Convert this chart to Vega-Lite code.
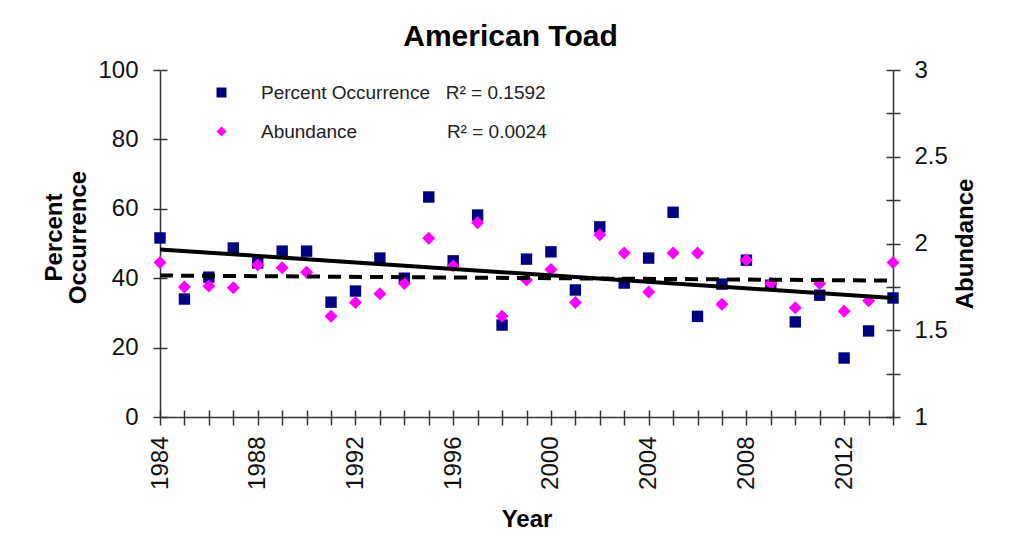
{
  "$schema": "https://vega.github.io/schema/vega-lite/v6.json",
  "width": 733,
  "height": 347,
  "autosize": {"type": "none"},
  "padding": {"left": 160, "top": 70, "right": 118, "bottom": 133},
  "background": "white",
  "title": {
    "text": "American Toad",
    "font": "Liberation Sans",
    "fontSize": 30,
    "fontWeight": "bold",
    "color": "#000000",
    "anchor": "middle",
    "dx": -16,
    "offset": 6
  },
  "config": {
    "view": {"stroke": null},
    "font": "Liberation Sans",
    "axis": {
      "labelFont": "Liberation Sans",
      "labelFontSize": 24,
      "labelColor": "#111111",
      "titleFont": "Liberation Sans",
      "titleFontSize": 24,
      "titleFontWeight": "bold",
      "titleColor": "#000000",
      "domainColor": "#333333",
      "domainWidth": 1.5,
      "tickColor": "#333333",
      "tickWidth": 1.5,
      "grid": false
    }
  },
  "data": {
    "values": [
      {"year": 1984, "pct": 51.6, "abund": 1.89},
      {"year": 1985, "pct": 34.0, "abund": 1.75},
      {"year": 1986, "pct": 40.3, "abund": 1.755},
      {"year": 1987, "pct": 48.7, "abund": 1.745},
      {"year": 1988, "pct": 44.4, "abund": 1.876},
      {"year": 1989, "pct": 47.8, "abund": 1.86},
      {"year": 1990, "pct": 47.8, "abund": 1.835},
      {"year": 1991, "pct": 33.1, "abund": 1.58},
      {"year": 1992, "pct": 36.3, "abund": 1.66},
      {"year": 1993, "pct": 45.8, "abund": 1.71},
      {"year": 1994, "pct": 40.0, "abund": 1.77},
      {"year": 1995, "pct": 63.4, "abund": 2.03},
      {"year": 1996, "pct": 45.0, "abund": 1.87},
      {"year": 1997, "pct": 58.2, "abund": 2.12},
      {"year": 1998, "pct": 26.5, "abund": 1.58},
      {"year": 1999, "pct": 45.5, "abund": 1.79},
      {"year": 2000, "pct": 47.6, "abund": 1.85},
      {"year": 2001, "pct": 36.6, "abund": 1.66},
      {"year": 2002, "pct": 54.8, "abund": 2.05},
      {"year": 2003, "pct": 38.6, "abund": 1.945},
      {"year": 2004, "pct": 45.8, "abund": 1.72},
      {"year": 2005, "pct": 59.0, "abund": 1.945},
      {"year": 2006, "pct": 29.0, "abund": 1.945},
      {"year": 2007, "pct": 38.3, "abund": 1.65},
      {"year": 2008, "pct": 45.2, "abund": 1.905},
      {"year": 2009, "pct": 38.0, "abund": 1.77},
      {"year": 2010, "pct": 27.4, "abund": 1.63},
      {"year": 2011, "pct": 35.1, "abund": 1.77},
      {"year": 2012, "pct": 17.0, "abund": 1.61},
      {"year": 2013, "pct": 24.8, "abund": 1.67},
      {"year": 2014, "pct": 34.3, "abund": 1.89}
    ]
  },
  "layer": [
    {
      "mark": {"type": "point", "filled": true, "opacity": 1, "size": 130, "clip": false},
      "encoding": {
        "x": {
          "field": "year", "type": "quantitative",
          "scale": {"domain": [1984, 2014], "nice": false, "zero": false},
          "axis": {
            "orient": "bottom",
            "title": "Year",
            "values": [1984,1985,1986,1987,1988,1989,1990,1991,1992,1993,1994,1995,1996,1997,1998,1999,2000,2001,2002,2003,2004,2005,2006,2007,2008,2009,2010,2011,2012,2013,2014],
            "labelExpr": "(datum.value - 1984) % 4 == 0 ? '' + datum.value : ''",
            "labelAngle": -90,
            "labelAlign": "right",
            "labelBaseline": "middle",
            "tickSize": 8,
            "labelPadding": 11,
            "titlePadding": 18,
            "labelFlush": false,
            "labelOverlap": false
          }
        },
        "y": {
          "field": "pct", "type": "quantitative",
          "scale": {"domain": [0, 100], "nice": false},
          "axis": {
            "orient": "left",
            "title": ["Percent", "Occurrence"],
            "titleLineHeight": 24,
            "titleY": 167,
            "values": [0, 20, 40, 60, 80, 100],
            "tickSize": 7,
            "labelPadding": 15,
            "titlePadding": 7,
            "labelFlush": false,
            "labelOverlap": false
          }
        },
        "color": {
          "datum": "Percent Occurrence",
          "type": "nominal",
          "scale": {"domain": ["Percent Occurrence", "Abundance"], "range": ["#000080", "#FF00FF"]},
          "legend": {
            "title": null,
            "orient": "none",
            "legendX": 52,
            "legendY": 13,
            "padding": 0,
            "symbolSize": 100,
            "symbolStrokeWidth": 0,
            "labelFont": "Liberation Sans",
            "labelFontSize": 19,
            "labelColor": "#222222",
            "labelOffset": 30,
            "labelLimit": 500,
            "rowPadding": 19,
            "labelExpr": "datum.label == 'Percent Occurrence' ? 'Percent Occurrence\u00a0\u00a0\u00a0R² = 0.1592' : 'Abundance\u00a0\u00a0\u00a0\u00a0\u00a0\u00a0\u00a0\u00a0\u00a0\u00a0\u00a0\u00a0\u00a0\u00a0\u00a0\u00a0\u00a0R² = 0.0024'"
          }
        },
        "shape": {
          "datum": "Percent Occurrence",
          "type": "nominal",
          "scale": {"domain": ["Percent Occurrence", "Abundance"], "range": ["square", "diamond"]},
          "legend": null
        }
      }
    },
    {
      "mark": {"type": "point", "filled": true, "opacity": 1, "size": 169, "clip": false},
      "encoding": {
        "x": {"field": "year", "type": "quantitative", "scale": {"domain": [1984, 2014], "nice": false, "zero": false}, "axis": null},
        "y": {
          "field": "abund", "type": "quantitative",
          "scale": {"domain": [1, 3], "nice": false, "zero": false},
          "axis": {
            "orient": "right",
            "title": "Abundance",
            "titleAngle": 270,
            "titleBaseline": "top",
            "titleAlign": "center",
            "values": [1, 1.25, 1.5, 1.75, 2, 2.25, 2.5, 2.75, 3],
            "format": "~g",
            "labelExpr": "datum.value % 0.5 == 0 ? datum.label : ''",
            "tickSize": 7,
            "labelPadding": 14,
            "titlePadding": 6,
            "labelFlush": false,
            "labelOverlap": false
          }
        },
        "color": {"datum": "Abundance", "type": "nominal"},
        "shape": {"datum": "Abundance", "type": "nominal"}
      }
    },
    {
      "transform": [{"regression": "pct", "on": "year"}],
      "mark": {"type": "line", "color": "#000000", "strokeWidth": 4, "clip": false},
      "encoding": {
        "x": {
          "field": "year", "type": "quantitative",
          "scale": {"domain": [1984, 2014], "nice": false, "zero": false},
          "axis": {"orient": "bottom", "title": null, "labels": false, "domain": false, "tickSize": -7,
            "values": [1984,1985,1986,1987,1988,1989,1990,1991,1992,1993,1994,1995,1996,1997,1998,1999,2000,2001,2002,2003,2004,2005,2006,2007,2008,2009,2010,2011,2012,2013,2014]}
        },
        "y": {
          "field": "pct", "type": "quantitative",
          "scale": {"domain": [0, 100], "nice": false},
          "axis": {"orient": "left", "title": null, "labels": false, "domain": false, "tickSize": -7, "values": [0, 20, 40, 60, 80, 100]}
        }
      }
    },
    {
      "transform": [{"regression": "abund", "on": "year"}],
      "mark": {"type": "line", "color": "#000000", "strokeWidth": 4, "strokeDash": [13, 8], "clip": false},
      "encoding": {
        "x": {"field": "year", "type": "quantitative", "scale": {"domain": [1984, 2014], "nice": false, "zero": false}, "axis": null},
        "y": {
          "field": "abund", "type": "quantitative",
          "scale": {"domain": [1, 3], "nice": false, "zero": false},
          "axis": {"orient": "right", "title": null, "labels": false, "domain": false, "tickSize": -7, "values": [1, 1.25, 1.5, 1.75, 2, 2.25, 2.5, 2.75, 3]}
        }
      }
    }
  ],
  "resolve": {
    "scale": {"y": "independent"},
    "axis": {"y": "independent", "x": "independent"}
  }
}
